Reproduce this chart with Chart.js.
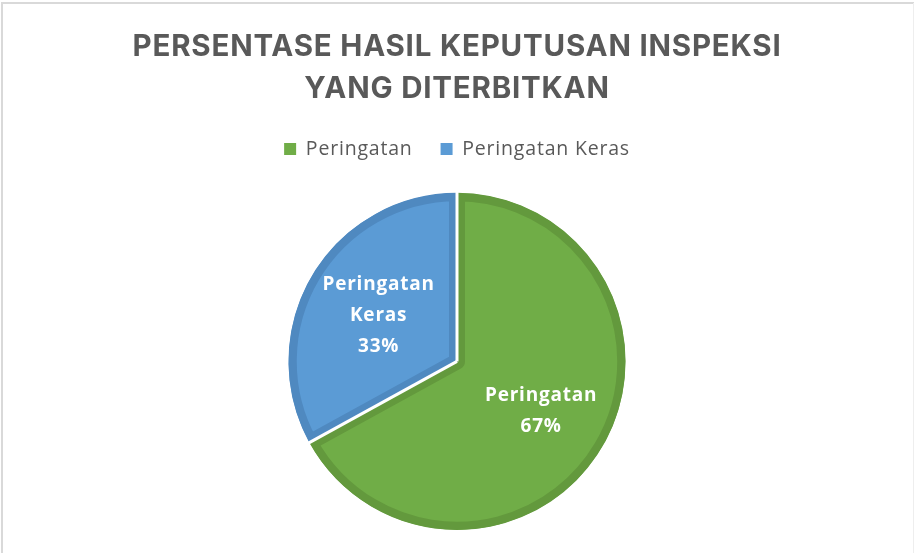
<!DOCTYPE html>
<html>
<head>
<meta charset="utf-8">
<script src="https://cdn.jsdelivr.net/npm/chart.js@4/dist/chart.umd.min.js"></script>
<style>
html,body{margin:0;padding:0;background:#fff;}
#wrap{position:relative;width:914px;height:553px;}
</style>
</head>
<body>
<div id="wrap"><canvas id="c" width="914" height="553"></canvas></div>
<script>
const categories = ["Peringatan", "Peringatan Keras"];
const values = [67, 33];
const labelLines = [["Peringatan", "67%"], ["Peringatan", "Keras", "33%"]];
const titleLines = ["PERSENTASE HASIL KEPUTUSAN INSPEKSI", "YANG DITERBITKAN"];
const fillColors = ["#70AD47", "#5B9BD5"];
const edgeColors = ["#63993D", "#4F89C0"];
const labelRadius = [0.58, 0.54];

const spacingPlugin = {
  id: 'spacingPlugin',
  beforeUpdate(chart) { chart.ctx.letterSpacing = '0.8px'; },
  beforeDraw(chart) { chart.ctx.letterSpacing = '0.8px'; },
  afterInit(chart) {
    const lg = chart.legend;
    if (lg) {
      const orig = lg.fit.bind(lg);
      lg.fit = function () { orig(); this.height += 24; };
    }
  }
};

const frame = {
  id: 'frame',
  beforeDraw(chart) {
    const ctx = chart.ctx;
    ctx.save();
    ctx.fillStyle = '#fff';
    ctx.fillRect(0, 0, chart.width, chart.height);
    ctx.strokeStyle = '#d9d9d9';
    ctx.lineWidth = 2;
    ctx.beginPath();
    ctx.moveTo(2, chart.height);
    ctx.lineTo(2, 3);
    ctx.lineTo(chart.width, 3);
    ctx.stroke();
    ctx.strokeStyle = '#eeeeee';
    ctx.lineWidth = 1;
    ctx.beginPath();
    ctx.moveTo(chart.width - 0.5, 3);
    ctx.lineTo(chart.width - 0.5, chart.height);
    ctx.stroke();
    ctx.restore();
  }
};

const sliceLabels = {
  id: 'sliceLabels',
  afterDatasetsDraw(chart) {
    const ctx = chart.ctx;
    const meta = chart.getDatasetMeta(0);
    ctx.save();
    ctx.strokeStyle = '#ffffff';
    ctx.lineWidth = 3;
    ctx.lineCap = 'butt';
    meta.data.forEach((arc) => {
      const p = arc.getProps(['x', 'y', 'startAngle', 'outerRadius'], true);
      ctx.beginPath();
      ctx.moveTo(p.x, p.y);
      ctx.lineTo(p.x + Math.cos(p.startAngle) * (p.outerRadius + 1), p.y + Math.sin(p.startAngle) * (p.outerRadius + 1));
      ctx.stroke();
    });
    ctx.fillStyle = '#ffffff';
    ctx.font = 'bold 19px "Open Sans", sans-serif';
    ctx.textAlign = 'center';
    ctx.textBaseline = 'middle';
    meta.data.forEach((arc, i) => {
      const p = arc.getProps(['x', 'y', 'startAngle', 'endAngle', 'outerRadius'], true);
      const mid = (p.startAngle + p.endAngle) / 2;
      const r = p.outerRadius * labelRadius[i];
      const cx = p.x + Math.cos(mid) * r;
      const cy = p.y + Math.sin(mid) * r;
      const lines = labelLines[i];
      const lh = 31;
      const y0 = cy - (lines.length - 1) * lh / 2;
      lines.forEach((t, k) => ctx.fillText(t, cx, y0 + k * lh));
    });
    ctx.restore();
  }
};

new Chart(document.getElementById('c'), {
  type: 'pie',
  data: {
    labels: categories,
    datasets: [{
      data: values,
      backgroundColor: fillColors,
      borderColor: edgeColors,
      borderWidth: 8,
      borderAlign: 'inner'
    }]
  },
  options: {
    responsive: false,
    animation: false,
    layout: { padding: { top: 0, bottom: 23, left: 0, right: 0 } },
    plugins: {
      title: {
        display: true,
        text: titleLines,
        color: '#595959',
        font: { family: 'Inter, "Open Sans", sans-serif', size: 29.5, weight: 'bold', lineHeight: 1.43 },
        padding: { top: 26, bottom: 1 }
      },
      legend: {
        display: true,
        position: 'top',
        labels: {
          color: '#595959',
          font: { family: '"Open Sans", sans-serif', size: 19.5 },
          boxWidth: 12,
          boxHeight: 12,
          padding: 28,
          generateLabels(chart) {
            const items = Chart.overrides.pie.plugins.legend.labels.generateLabels(chart);
            items.forEach(it => { it.lineWidth = 0; it.strokeStyle = it.fillStyle; });
            return items;
          }
        }
      },
      tooltip: { enabled: false }
    }
  },
  plugins: [spacingPlugin, frame, sliceLabels]
});
</script>
</body>
</html>
